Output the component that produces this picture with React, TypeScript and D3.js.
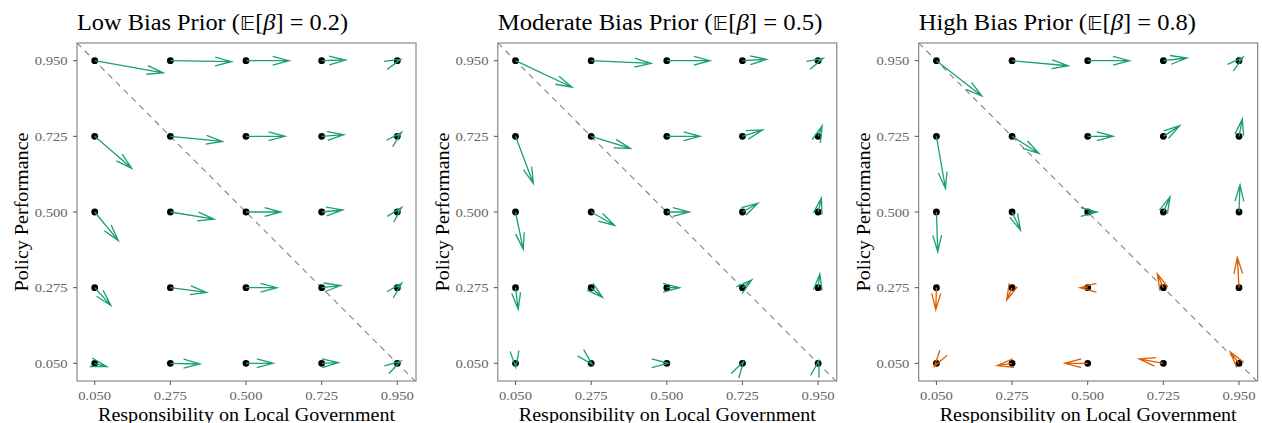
import React from "react";
import * as d3 from "d3";

const GRID_X = [0.05, 0.275, 0.5, 0.725, 0.95];
const GRID_Y = [0.95, 0.725, 0.5, 0.275, 0.05];
const TICK_LABELS = ["0.050", "0.275", "0.500", "0.725", "0.950"];

const PANEL_NAMES = ["Low Bias Prior", "Moderate Bias Prior", "High Bias Prior"];
const PRIOR_MEANS = ["0.2", "0.5", "0.8"];

// Arrow displacements, row by row (y = 0.95 down to 0.05), columns x = 0.05 .. 0.95
const lowDx = [
  0.204, 0.182, 0.128, 0.071, 0.010,
  0.110, 0.155, 0.116, 0.066, 0.013,
  0.070, 0.130, 0.104, 0.0625, 0.013,
  0.048, 0.108, 0.092, 0.056, 0.013,
  0.036, 0.088, 0.081, 0.050, 0.010,
];
const lowDy = [
  -0.036, -0.003, 0, 0.002, 0.004,
  -0.095, -0.015, 0, 0.005, 0.012,
  -0.085, -0.021, 0, 0.006, 0.014,
  -0.053, -0.014, 0, 0.006, 0.013,
  -0.010, -0.002, 0, 0.002, 0.006,
];
const modDx = [
  0.168, 0.178, 0.129, 0.072, 0.015,
  0.053, 0.117, 0.099, 0.060, 0.012,
  0.023, 0.070, 0.067, 0.046, 0.010,
  0.008, 0.034, 0.038, 0.028, 0.005,
  0.001, 0.003, 0.004, 0.003, 0.002,
];
const modDy = [
  -0.079, -0.008, 0, 0.004, 0.007,
  -0.140, -0.036, 0, 0.019, 0.031,
  -0.111, -0.040, 0, 0.026, 0.042,
  -0.064, -0.029, 0, 0.023, 0.041,
  -0.012, -0.003, 0, 0.005, 0.008,
];
const highDx = [
  0.135, 0.167, 0.124, 0.070, 0.012,
  0.027, 0.080, 0.076, 0.049, 0.010,
  0.004, 0.025, 0.028, 0.020, 0.003,
  -0.002, -0.016, -0.023, -0.018, -0.005,
  -0.006, -0.044, -0.068, -0.072, -0.026,
];
const highDy = [
  -0.105, -0.015, 0, 0.008, 0.010,
  -0.155, -0.051, 0, 0.032, 0.052,
  -0.118, -0.054, 0, 0.045, 0.081,
  -0.066, -0.037, 0, 0.041, 0.090,
  -0.009, -0.007, 0, 0.013, 0.034,
];
// regime per grid cell: "up" (green) or "down" (orange)
const lowRegime = Array(25).fill("up");
const modRegime = Array(25).fill("up");
const highRegime = [
  "up", "up", "up", "up", "up",
  "up", "up", "up", "up", "up",
  "up", "up", "up", "up", "up",
  "down", "down", "down", "down", "down",
  "down", "down", "down", "down", "down",
];

const PANEL_DX = [lowDx, modDx, highDx];
const PANEL_DY = [lowDy, modDy, highDy];
const PANEL_REGIME = [lowRegime, modRegime, highRegime];

const COLORS: Record<string, string> = { up: "#1b9e77", down: "#d95f02" };

const W = 1262;
const H = 423;
const PANEL_W = 339;
const PANEL_TOP = 43;
const PANEL_BOTTOM = 381;
const PANEL_LEFTS = [77, 497.8, 918.7];
const TITLE_WIDTHS = [271, 324.6, 277.3];
const SERIF = "'Liberation Serif', 'Times New Roman', serif";

function Panel({ idx }: { idx: number }) {
  const left = PANEL_LEFTS[idx];
  const x = d3.scaleLinear().domain([-0.0027, 1.0056]).range([left, left + PANEL_W]);
  const y = d3.scaleLinear().domain([-0.0026, 1.0026]).range([PANEL_BOTTOM, PANEL_TOP]);
  const dxs = PANEL_DX[idx];
  const dys = PANEL_DY[idx];
  const regs = PANEL_REGIME[idx];
  const headLen = 17;
  const headAng = (15 * Math.PI) / 180;
  const clipId = `clip${idx}`;

  const arrows = [];
  for (let r = 0; r < GRID_Y.length; r++) {
    for (let c = 0; c < GRID_X.length; c++) {
      const i = r * GRID_X.length + c;
      const x0 = x(GRID_X[c]);
      const y0 = y(GRID_Y[r]);
      const x1 = x(GRID_X[c] + dxs[i]);
      const y1 = y(GRID_Y[r] + dys[i]);
      const th = Math.atan2(y1 - y0, x1 - x0);
      const b1x = x1 - headLen * Math.cos(th - headAng);
      const b1y = y1 - headLen * Math.sin(th - headAng);
      const b2x = x1 - headLen * Math.cos(th + headAng);
      const b2y = y1 - headLen * Math.sin(th + headAng);
      const p = d3.path();
      p.moveTo(x0, y0);
      p.lineTo(x1, y1);
      p.moveTo(b1x, b1y);
      p.lineTo(x1, y1);
      p.lineTo(b2x, b2y);
      arrows.push({ key: i, d: p.toString(), color: COLORS[regs[i]], x0, y0 });
    }
  }

  const line = d3
    .line<[number, number]>()
    .x((d) => x(d[0]))
    .y((d) => y(d[1]));
  const diag = line([
    [-0.0027, 1.0027],
    [1.0056, -0.0056],
  ]);

  return (
    <g>
      <defs>
        <clipPath id={clipId}>
          <rect x={left} y={PANEL_TOP} width={PANEL_W} height={PANEL_BOTTOM - PANEL_TOP} />
        </clipPath>
      </defs>
      <rect x={left} y={PANEL_TOP} width={PANEL_W} height={PANEL_BOTTOM - PANEL_TOP} fill="#fff" />
      <g clipPath={`url(#${clipId})`}>
        <path d={diag || ""} stroke="#808080" strokeWidth={1.1} strokeDasharray="6,5" fill="none" />
        {arrows.map((a) => (
          <circle key={`d${a.key}`} cx={a.x0} cy={a.y0} r={3.4} fill="#000" />
        ))}
        {arrows.map((a) => (
          <path key={`a${a.key}`} d={a.d} stroke={a.color} strokeWidth={1.3} fill="none" />
        ))}
      </g>
      <rect
        x={left}
        y={PANEL_TOP}
        width={PANEL_W}
        height={PANEL_BOTTOM - PANEL_TOP}
        fill="none"
        stroke="#7f7f7f"
        strokeWidth={1.1}
      />
      {GRID_X.map((v, i) => (
        <g key={`xt${i}`}>
          <line x1={x(v)} x2={x(v)} y1={PANEL_BOTTOM} y2={PANEL_BOTTOM + 4} stroke="#555" strokeWidth={1} />
          <text
            x={x(v)}
            y={PANEL_BOTTOM + 19}
            textAnchor="middle"
            fontSize={13.5}
            fill="#666"
            fontFamily={SERIF}
            textLength={33}
            lengthAdjust="spacingAndGlyphs"
          >
            {TICK_LABELS[i]}
          </text>
        </g>
      ))}
      {GRID_Y.map((v, i) => (
        <g key={`yt${i}`}>
          <line x1={left - 4} x2={left} y1={y(v)} y2={y(v)} stroke="#555" strokeWidth={1} />
          <text
            x={left - 9.3}
            y={y(v) + 4.6}
            textAnchor="end"
            fontSize={13.5}
            fill="#666"
            fontFamily={SERIF}
            textLength={33}
            lengthAdjust="spacingAndGlyphs"
          >
            {TICK_LABELS[4 - i]}
          </text>
        </g>
      ))}
      <text
        x={left}
        y={29.5}
        fontSize={22.5}
        fill="#000"
        fontFamily={SERIF}
        textLength={TITLE_WIDTHS[idx]}
        lengthAdjust="spacingAndGlyphs"
      >
        {PANEL_NAMES[idx]} (
        <tspan fontFamily="'DejaVu Sans', 'Noto Sans', sans-serif" fontSize={19.5}>
          𝔼
        </tspan>
        [<tspan fontStyle="italic">β</tspan>] = {PRIOR_MEANS[idx]})
      </text>
      <text
        x={left + PANEL_W / 2}
        y={420.5}
        textAnchor="middle"
        fontSize={19}
        fill="#000"
        fontFamily={SERIF}
        textLength={297}
        lengthAdjust="spacingAndGlyphs"
      >
        Responsibility on Local Government
      </text>
      <text
        transform={`translate(${left - 49},${(PANEL_TOP + PANEL_BOTTOM) / 2}) rotate(-90)`}
        textAnchor="middle"
        fontSize={19}
        fill="#000"
        fontFamily={SERIF}
        textLength={159}
        lengthAdjust="spacingAndGlyphs"
      >
        Policy Performance
      </text>
    </g>
  );
}

export default function App() {
  return (
    <svg
      width={W}
      height={H}
      style={{ position: "absolute", left: 0, top: 0, background: "#fff" }}
    >
      <rect x={0} y={0} width={W} height={H} fill="#fff" />
      {[0, 1, 2].map((i) => (
        <Panel key={i} idx={i} />
      ))}
    </svg>
  );
}
